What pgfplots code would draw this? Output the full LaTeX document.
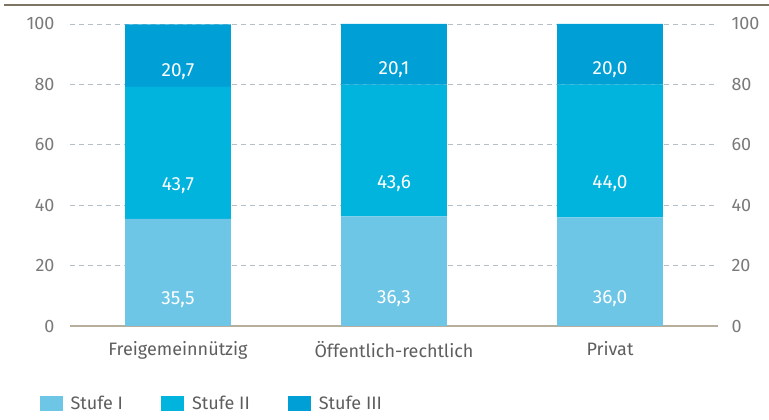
\documentclass[border=0pt]{standalone}
\usepackage{fontspec}
\setmainfont{Fira Sans}
\usepackage{pgfplots}
\pgfplotsset{compat=1.18}
\definecolor{stI}{HTML}{6EC6E6}
\definecolor{stII}{HTML}{00B4DE}
\definecolor{stIII}{HTML}{00A0D6}
\definecolor{tickgray}{HTML}{7A7A7A}
\definecolor{labgray}{HTML}{5E5E5E}
\definecolor{gridc}{HTML}{B4BEC6}
\definecolor{rulec}{HTML}{7D7464}
\definecolor{basec}{HTML}{B8AE9E}

\pgfplotstableread{
x  s1   s2   s3
0  35.5 43.7 20.7
1  36.3 43.6 20.1
2  36.0 44.0 20.0
}\data

\begin{document}
\begin{tikzpicture}[x=1pt,y=1pt]
\path[use as bounding box] (0,0) rectangle (769,420);
\draw[rulec, line width=2pt] (4,415) -- (769,415);
\begin{axis}[
  at={(70pt,94pt)}, anchor=south west,
  scale only axis, width=648pt, height=302pt,
  ybar stacked, bar width=0.49,
  xmin=-0.5, xmax=2.5, ymin=0, ymax=100,
  axis line style={draw=none}, tick style={draw=none},
  xtick=data, xticklabels={Freigemeinnützig,Öffentlich-rechtlich,Privat},
  xticklabel style={font=\fontsize{18}{20}\selectfont, text=labgray, yshift=-12pt},
  ytick={20,40,60,80,100}, extra y ticks={0},
  extra y tick style={grid=major, major grid style={basec, solid, line width=1.2pt}},
  yticklabel pos=left,
  yticklabel style={font=\fontsize{18}{20}\selectfont, text=tickgray, xshift=-12pt},
  /pgf/number format/assume math mode=true,
  ymajorgrids, grid style={gridc, line width=0.8pt, dash pattern=on 5pt off 4pt},
  visualization depends on=rawy \as \rawy,
  nodes near coords={\pgfmathprintnumber[fixed,fixed zerofill,precision=1,use comma,assume math mode=true]{\rawy}},
  every node near coord/.append style={anchor=center, text=white, font=\fontsize{19}{21}\selectfont, yshift={-0.755*\rawy}},
  legend style={at={(-0.052,-0.255)}, anchor=west, draw=none, fill=none,
    legend columns=3, font=\fontsize{18}{20}\selectfont, text=labgray,
    /tikz/every odd column/.append style={column sep=6pt},
    /tikz/every even column/.append style={column sep=36pt}},
  legend image code/.code={\fill[#1] (0pt,-7.5pt) rectangle (23pt,7.5pt);},
]
\addplot[fill=stI, draw=none] table[x=x, y=s1] {\data};
\addplot[fill=stII, draw=none] table[x=x, y=s2] {\data};
\addplot[fill=stIII, draw=none] table[x=x, y=s3] {\data};
\legend{Stufe I, Stufe II, Stufe III}
\end{axis}
\begin{axis}[
  at={(70pt,94pt)}, anchor=south west,
  scale only axis, width=648pt, height=302pt,
  xmin=-0.5, xmax=2.5, ymin=0, ymax=100,
  axis line style={draw=none}, tick style={draw=none},
  xtick=\empty, ytick={0,20,...,100},
  yticklabel pos=right,
  yticklabel style={font=\fontsize{18}{20}\selectfont, text=tickgray, xshift=10pt},
  /pgf/number format/assume math mode=true,
]
\addplot[draw=none] coordinates {(0,0)};
\end{axis}
\end{tikzpicture}
\end{document}
